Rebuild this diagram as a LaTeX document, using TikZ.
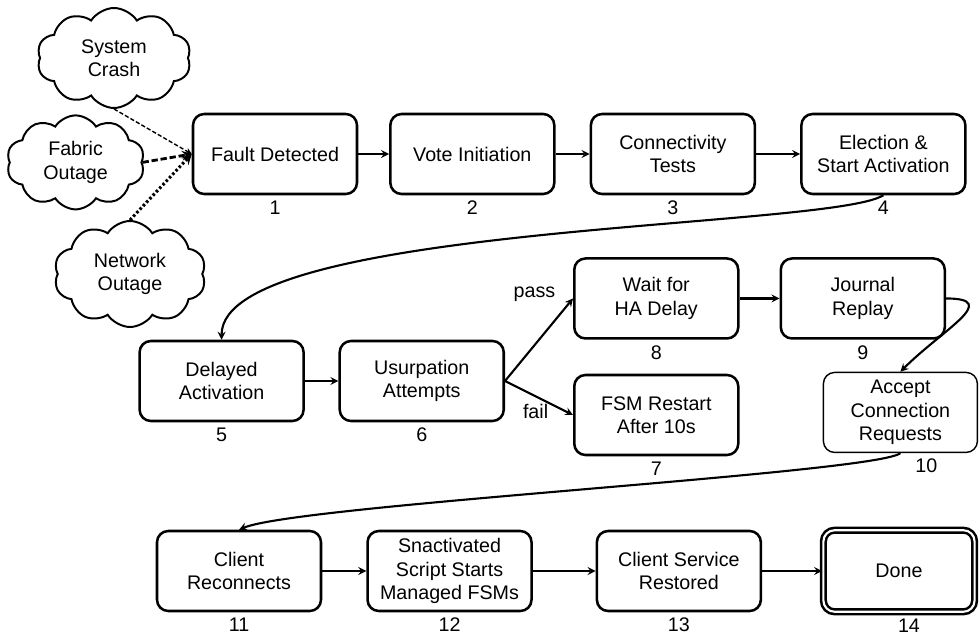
\documentclass[tikz,border=0pt]{standalone}
\usepackage{fontspec}
\setmainfont{Liberation Sans}
\usetikzlibrary{arrows,shapes,shapes.symbols,positioning}

\begin{document}
\begin{tikzpicture}[
    node distance=0.8cm and 1cm,
    block/.style={draw, rectangle, rounded corners=8pt, line width=1.8pt, fill=white, minimum width=4.1cm, minimum height=2cm, inner sep=3pt, align=center, font=\fontsize{14}{16.5}\selectfont},
    trigger/.style={draw, cloud, cloud puffs=10, cloud puff arc=115, cloud ignores aspect, line width=1.4pt, inner sep=0pt, align=center, font=\fontsize{14}{16.5}\selectfont},
    num/.style={inner sep=1pt, font=\fontsize{14}{16.5}\selectfont},
    arrow/.style={->, line width=1.5pt, >=stealth},
]
    \useasboundingbox (0,0) rectangle (24.5,15.9);

    % Fault sources
    \node [trigger, minimum width=3.85cm, minimum height=2.5cm] (crash) at (2.85,14.45) {System\\Crash};
    \node [trigger, minimum width=3.45cm, minimum height=2.35cm] (fabric) at (1.89,11.84) {Fabric\\Outage};
    \node [trigger, minimum width=3.8cm, minimum height=2.65cm] (netout) at (3.25,9.05) {Network\\Outage};

    % Detection and election
    \node [block] (fault_det) at (6.875,12.05) {Fault Detected};
    \node [block, right=0.77cm of fault_det] (vote_init) {Vote Initiation};
    \node [block, right=0.85cm of vote_init] (conn_test) {Connectivity\\Tests};
    \node [block, right=1.1cm of conn_test] (elect) {Election \&\\Start Activation};

    % Activation
    \node [block] (delayed) at (5.54,6.375) {Delayed\\Activation};
    \node [block, right=0.84cm of delayed] (usurp) {Usurpation\\Attempts};
    \node [block, above right=0cm and 1.7cm of usurp] (wait_ha) {Wait for\\HA Delay};
    \node [block, right=1cm of wait_ha] (replay) {Journal\\Replay};
    \node [block, below=0.85cm of wait_ha] (restart) {FSM Restart\\After 10s};
    \node [block, line width=1pt, minimum width=3.85cm, below=0.8cm of replay, xshift=0.94cm] (accept) {Accept\\Connection\\Requests};

    % Recovery
    \node [block] (reconn) at (5.975,1.625) {Client\\Reconnects};
    \node [block, right=1.1cm of reconn] (script) {Snactivated\\Script Starts\\Managed FSMs};
    \node [block, right=1.57cm of script] (restored) {Client Service\\Restored};
    \node [block, double, line width=1.8pt, double distance=1.5pt, minimum width=3.78cm, minimum height=2.04cm, right=1.5cm of restored] (done) {Done};

    % Step numbers
    \node [num, below=3pt of fault_det] (num1) {1};
    \node [num, below=3pt of vote_init] (num2) {2};
    \node [num, below=3pt of conn_test] (num3) {3};
    \node [num, below=3pt of elect] (num4) {4};
    \node [num, below=3pt of delayed] (num5) {5};
    \node [num, below=3pt of usurp] (num6) {6};
    \node [num, below=3pt of restart] (num7) {7};
    \node [num, below=3pt of wait_ha] (num8) {8};
    \node [num, below=3pt of replay] (num9) {9};
    \node [num, below=3pt of accept, xshift=0.65cm] (num10) {10};
    \node [num, below=3pt of reconn] (num11) {11};
    \node [num, below=3pt of script] (num12) {12};
    \node [num, below=3pt of restored] (num13) {13};
    \node [num, below=3pt of done, xshift=0.25cm] (num14) {14};

    % Arrows
    \draw [arrow, line width=1pt, dash pattern=on 3pt off 1.5pt] (crash.south) -- (fault_det.west);
    \draw [arrow, line width=2pt, dash pattern=on 4.5pt off 2pt] (fabric.east) -- (fault_det.west);
    \draw [arrow, line width=2.2pt, dash pattern=on 1.8pt off 1.6pt] (netout.north) -- (fault_det.west);
    \draw [arrow] (fault_det) -- (vote_init);
    \draw [arrow] (vote_init) -- (conn_test);
    \draw [arrow] (conn_test) -- (elect);
    \draw [arrow] (elect.south) to[out=-148, in=90, out distance=1.6cm, in distance=2.9cm] (delayed.north);
    \draw [arrow] (delayed) -- (usurp);
    \draw [arrow] (usurp.east) -- node [pos=0.9, above left=2pt and 6pt, num] (pass) {pass} (wait_ha.west);
    \draw [arrow] (usurp.east) -- node [pos=0.45, below=4pt, num] (fail) {fail} (restart.west);
    \draw [arrow] (wait_ha) -- (replay);
    \draw [arrow] (replay.east) to[out=0, in=45, out distance=1.4cm, in distance=1.5cm] (accept.north);
    \draw [arrow] (accept.south) to[out=-141, in=23, out distance=0.8cm, in distance=1.6cm] (reconn.north);
    \draw [arrow] (reconn) -- (script);
    \draw [arrow] (script) -- (restored);
    \draw [arrow] (restored) -- (done);

\end{tikzpicture}
\end{document}
